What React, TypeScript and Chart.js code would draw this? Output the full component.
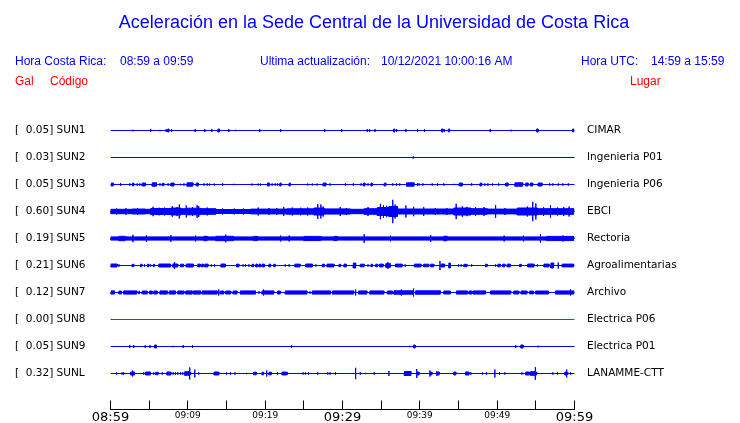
import { useEffect, useRef } from 'react';
import { Chart, registerables } from 'chart.js';

Chart.register(...registerables);

// ---------- data ----------
const TITLE = 'Aceleración en la Sede Central de la Universidad de Costa Rica';
const CR_RANGE = '08:59 a 09:59';
const UTC_RANGE = '14:59 a 15:59';
const UPDATED = '10/12/2021 10:00:16 AM';

const CODES = ['SUN1', 'SUN2', 'SUN3', 'SUN4', 'SUN5', 'SUN6', 'SUN7', 'SUN8', 'SUN9', 'SUNL'];
const PLACES = ['CIMAR', 'Ingenieria P01', 'Ingenieria P06', 'EBCI', 'Rectoria', 'Agroalimentarias', 'Archivo', 'Electrica P06', 'Electrica P01', 'LANAMME-CTT'];
const PEAK_GAL = [0.05, 0.03, 0.05, 0.6, 0.19, 0.21, 0.12, 0.0, 0.05, 0.32];
const ACTIVE = [true, true, true, true, true, true, true, false, true, true];

// time axis: minutes after 08:59, labels every 10 minutes
const TIME_LABELS = ['08:59', '09:09', '09:19', '09:29', '09:39', '09:49', '09:59'];
const TIME_MAJOR = ['08:59', '09:29', '09:59'];

// amplitude units per trace spacing
const AMP_PER_TRACE = 27;

// events: [minute, duration (min), amplitude]
const SUN1_EVENTS = [
  [2.9, 0, 0.8], [5.2, 0, 1.5], [6.4, 0, 0.7], [7.2, 0, 1.5], [7.4, 0.15, 1.5], [7.9, 0, 1.5],
  [10.95, 0, 1.5], [12.2, 0, 1.5], [13.1, 0, 1.5], [13.9, 0.2, 1.5], [15.3, 0, 1.5], [16.2, 0, 0.7],
  [19.3, 0, 1.5], [22.0, 0, 1.5], [27.7, 0, 1.5], [29.9, 0, 1.5], [33.2, 0, 1.5], [33.5, 0, 1.5],
  [34.2, 0, 1.5], [36.6, 0.15, 1.5], [37.0, 0, 1.5], [38.2, 0, 1.5], [39.7, 0, 1.5], [40.6, 0, 1.5],
  [42.8, 0.2, 1.5], [43.2, 0, 1.5], [43.7, 0.15, 1.5], [49.1, 0, 1.5], [51.8, 0, 0.8], [55.1, 0.2, 1.5],
  [59.75, 0.15, 1.5],
];
const SUN2_EVENTS = [[39.1, 0.1, 0.7]];
const SUN3_EVENTS = [
  [0.1, 0.25, 1.5], [1.3, 0, 1.5], [2.5, 0, 1.2], [2.85, 0.15, 1.5], [3.45, 0, 1.2], [3.8, 0, 1.2],
  [4.1, 0.4, 1.5], [5.4, 0.55, 1.7], [6.4, 0, 1.2], [6.7, 0.2, 1.2], [7.45, 0, 1.2], [7.8, 0.4, 1.5],
  [9.0, 0.1, 0.8], [9.5, 0, 1.2], [9.9, 0.75, 1.7], [11.1, 0.25, 1.5], [12.1, 0, 1.2], [12.5, 0, 1.2],
  [12.8, 0, 1], [13.4, 0, 1], [14.5, 0, 1.2], [16.0, 0, 0.7], [18.3, 0, 1], [19.1, 0, 1], [19.4, 0, 1],
  [20.3, 0.25, 1.5], [20.9, 0, 1.2], [21.3, 0, 1.2], [21.6, 0, 1.2], [21.9, 0.15, 1.5], [23.1, 0.15, 1.5],
  [25.5, 0, 1], [26.1, 0, 1], [26.7, 0, 1], [27.5, 0.35, 1.5], [28.4, 0, 1.2], [30.4, 0, 1.2],
  [31.4, 0, 1.2], [32.4, 0, 1.2], [32.7, 0.2, 1.5], [33.3, 0, 1.2], [33.7, 0.15, 1.5], [35.4, 0.2, 1.5],
  [36.5, 0, 1.2], [37.0, 0, 1.2], [37.4, 0, 1.2], [38.3, 0.95, 1.7], [39.7, 0, 1.2], [39.9, 0, 1.2],
  [40.4, 0, 1.2], [41.6, 0, 1.2], [42.3, 0, 1.2], [43.1, 0, 1.2], [44.4, 0, 0.7], [45.1, 0.4, 1.5],
  [46.7, 0, 1.2], [47.8, 0.2, 1.5], [48.4, 0, 1.2], [48.8, 0, 1.2], [49.4, 0, 1.2], [50.2, 0, 1.2],
  [51.1, 0.3, 1.5], [52.3, 1.0, 1.7], [53.7, 0.3, 1.5], [54.3, 0.3, 1.5], [55.3, 0.5, 1.5], [56.8, 0, 1.2],
  [57.2, 0, 1.2], [57.9, 0, 1.2], [58.5, 0, 1.2], [59.2, 0, 1.2],
];
const SUN4_EVENTS = [
  [0.02, 2.8, 2.2], [2.8, 1.7, 2.5], [4.5, 0.7, 2.2], [5.2, 2.6, 3.0], [7.8, 1.3, 3.5], [9.1, 0.7, 2.8],
  [9.8, 1.8, 3.3], [11.6, 2.0, 2.8], [13.6, 4.5, 2.0], [18.1, 4.7, 2.4], [22.8, 3.5, 2.7], [26.3, 1.3, 3.5],
  [27.6, 3.4, 2.6], [31.0, 1.8, 2.2], [32.8, 1.7, 2.8], [34.5, 1.5, 4.0], [36.0, 1.1, 5.0], [37.1, 7.3, 2.5],
  [44.4, 2.2, 3.5], [46.6, 2.1, 2.8], [48.7, 3.9, 2.4], [52.6, 2.6, 3.5], [55.2, 4.7, 2.8],
];
const SUN4_PEAKS = [
  [0.8, 3], [2.0, 3.3], [3.5, 3.5], [5.5, 4.7], [6.3, 3.8], [7.0, 4], [8.0, 5.3], [8.6, 4.5], [8.9, 7],
  [9.8, 6], [10.6, 4.5], [11.2, 6.3], [11.4, 5.5], [12.5, 4], [14.5, 3], [16.0, 3], [17.2, 3], [19.1, 4],
  [20.5, 3.5], [21.5, 3.5], [22.4, 4.5], [23.5, 4], [24.6, 3.8], [25.5, 4], [26.8, 7.5], [27.2, 7],
  [27.5, 5], [29.7, 4.5], [30.5, 3.5], [33.3, 4.5], [34.9, 7.7], [35.3, 6.3], [35.7, 5.7], [36.5, 11.7],
  [36.8, 7], [38.2, 6], [39.2, 4.7], [40.5, 4.5], [42.0, 3.5], [43.5, 3.5], [44.7, 7.7], [45.5, 5.3],
  [46.1, 4.7], [47.2, 4.5], [48.3, 4.5], [49.8, 6.3], [51.0, 3.5], [53.9, 5], [54.6, 9.7], [55.0, 8],
  [56.0, 4.5], [56.9, 6.5], [57.8, 4], [58.6, 4.5], [59.3, 5],
];
const SUN5_EVENTS = [
  [0.02, 1.08, 1.6], [1.1, 0.8, 2.2], [1.9, 10.2, 1.6], [12.1, 0.4, 2.2], [12.5, 1.1, 1.6], [13.6, 2.3, 2.2],
  [15.9, 2.6, 1.6], [18.5, 0.5, 2.1], [19.0, 6.0, 1.6], [25.0, 2.2, 2.1], [27.2, 1.7, 1.6], [28.9, 0.4, 2.1],
  [29.3, 13.8, 1.6], [43.1, 0.4, 2.3], [43.5, 12.9, 1.6], [56.4, 3.5, 2.1],
];
const SUN5_PEAKS = [
  [2.9, 3.7], [4.65, 3.3], [7.8, 3.5], [11.0, 3], [14.9, 3.8], [22.0, 3], [23.1, 3], [32.8, 4.3],
  [36.2, 3], [41.4, 3.5], [50.9, 3], [53.4, 3], [55.6, 4.5], [58.5, 3],
];
const SUN6_EVENTS = [
  [0.05, 0.8, 1.5], [1.1, 0, 1.2], [2.8, 0.2, 1.2], [3.9, 0.15, 1.3], [4.4, 0, 1.2], [4.8, 0.15, 1.3],
  [5.2, 0, 1.2], [5.55, 0.1, 1.2], [6.25, 1.5, 1.5], [8.05, 0.2, 1.6], [8.3, 0, 3.5], [8.35, 0.35, 1.5],
  [9.05, 0.4, 1.3], [9.8, 0.9, 1.5], [11.3, 0.3, 1.4], [11.8, 0.2, 1.4], [12.2, 0.4, 1.4], [13.05, 0, 1.2],
  [13.45, 0, 1.2], [14.3, 0.55, 1.5], [16.3, 0.3, 1.4], [17.15, 0, 1.2], [17.45, 0, 1.2], [17.9, 0, 1.2],
  [18.3, 0.2, 1.3], [18.8, 0.2, 1.4], [19.2, 0.2, 1.4], [19.6, 0.3, 1.4], [20.5, 0.2, 1.4], [21.1, 0.2, 1.2],
  [22.6, 0, 1.2], [23.1, 0, 1.2], [23.85, 0.65, 1.4], [25.25, 0.85, 1.5], [26.55, 0, 1.2], [27.4, 0.25, 1.3],
  [28.0, 0.9, 1.4], [29.55, 0.2, 1.2], [30.2, 0.3, 1.4], [31.4, 0.3, 2.5], [32.3, 0.5, 1.3], [33.3, 0, 1.2],
  [33.7, 0.15, 1.3], [34.3, 0.25, 1.3], [34.8, 0.45, 1.4], [35.6, 0.25, 1.8], [35.86, 0, 3.5], [35.87, 0.33, 1.8],
  [36.85, 0.85, 1.4], [38.1, 0, 1.2], [39.3, 0.85, 1.4], [40.5, 0.65, 1.3], [41.4, 0.4, 1.3], [42.6, 0, 4.5],
  [42.75, 0.45, 1.5], [43.75, 0.2, 2.5], [45.0, 0, 1.2], [45.35, 0, 1.2], [45.7, 0.4, 1.2], [46.7, 0, 1.2],
  [48.5, 0.2, 1.3], [49.8, 0, 1.2], [50.1, 0.3, 1.3], [50.7, 0.3, 1.3], [51.3, 0.4, 1.4], [52.9, 0.2, 1.2],
  [53.95, 0.8, 1.5], [55.2, 0, 1.2], [56.05, 0.65, 1.4], [56.95, 0.35, 2.5], [57.9, 0, 3], [58.4, 1.5, 1.4],
];
const SUN7_EVENTS = [
  [0.05, 0.45, 1.6], [1.1, 0.3, 1.5], [1.7, 1.7, 1.6], [3.65, 0.1, 1.3], [4.1, 0.65, 1.5], [5.05, 0.35, 1.5],
  [5.6, 0.45, 1.5], [6.4, 0.95, 1.6], [7.6, 0.8, 1.6], [8.7, 0.8, 1.5], [9.75, 0.8, 1.6], [10.7, 0.95, 1.6],
  [11.85, 1.95, 1.6], [14.0, 0, 3], [14.2, 0.45, 1.5], [14.9, 0.65, 1.5], [15.85, 0.5, 1.5], [16.8, 1.95, 1.6],
  [19.2, 0, 1.3], [19.6, 0.15, 1.6], [19.8, 0, 3], [19.81, 1.3, 1.6], [21.6, 0.35, 1.5], [22.6, 2.8, 1.6],
  [25.8, 0, 1.3], [26.1, 2.35, 1.6], [28.7, 2.75, 1.6], [31.7, 0, 3], [32.1, 1.05, 1.6], [33.55, 1.8, 1.6],
  [35.8, 0.65, 1.5], [36.65, 0.9, 1.7], [37.6, 0, 3], [37.61, 1.55, 1.7], [39.2, 0, 4], [39.45, 3.2, 1.7],
  [43.1, 0.85, 1.5], [44.75, 1.4, 1.6], [46.35, 0.4, 1.5], [46.9, 1.6, 1.6], [49.15, 2.6, 1.6], [52.15, 0.65, 1.5],
  [53.1, 0.75, 1.5], [54.2, 0.5, 1.4], [54.95, 1.7, 1.5], [57.55, 1.9, 1.6], [59.5, 0, 3], [59.51, 0.4, 1.6],
];
const SUN8_EVENTS = [];
const SUN9_EVENTS = [
  [2.5, 0, 1.5], [3.0, 0, 1.5], [4.5, 0, 1.5], [5.1, 0, 1.5], [5.7, 0.25, 1.5], [8.1, 0, 0.7], [9.4, 0, 1.5],
  [10.6, 0, 1.5], [23.4, 0, 1.5], [38.7, 0, 0.7], [39.2, 0.2, 1.5], [52.4, 0, 1.5], [53.05, 0.3, 1.5], [55.3, 0, 0.8],
];
const SUNL_EVENTS = [
  [0.78, 0, 1], [1.5, 0, 1.2], [1.7, 0, 1.2], [2.6, 0.2, 1.5], [2.85, 0, 3], [2.9, 0.2, 1.5], [4.3, 0, 1.2],
  [4.55, 0.6, 1.5], [5.6, 0, 1.2], [5.85, 0.3, 1.2], [6.7, 0, 1.2], [7.3, 0.5, 1.5], [8.1, 0, 1.2], [8.4, 0, 1.2],
  [8.7, 0, 1.2], [9.05, 0, 1.2], [9.35, 0, 1.2], [9.6, 0.6, 1.8], [10.26, 0, 6], [10.3, 0.1, 1.5], [10.9, 0, 4],
  [11.4, 0, 1.2], [13.4, 0.6, 1.5], [15.0, 0, 1.2], [15.5, 0, 1.2], [16.1, 0, 1.2], [17.6, 0, 0.7],
  [18.5, 0.35, 1.3], [19.6, 0.2, 1.3], [20.2, 0, 3], [20.5, 0.3, 1.3], [21.6, 0, 1.2], [22.2, 0.55, 1.5],
  [22.9, 0, 1.2], [24.9, 0, 1.2], [25.2, 0, 1.2], [25.6, 0, 1.2], [26.8, 0, 1.2], [28.1, 0, 1.2], [28.4, 0, 1.2],
  [29.1, 0, 1.2], [31.7, 0, 5.7], [32.3, 0, 1.2], [33.0, 0, 0.7], [34.1, 0, 1.2], [36.0, 0, 2.5],
  [38.0, 0.85, 2], [39.6, 0, 4.5], [39.7, 0.2, 1.5], [41.3, 0, 3], [41.4, 0.15, 1.5], [42.2, 0, 2.5],
  [42.3, 0.2, 1.5], [44.4, 0.25, 1.5], [45.9, 0.45, 1.5], [46.6, 0, 1.2], [48.1, 0, 1.2], [48.6, 0, 1.2],
  [49.7, 0, 4], [50.3, 0, 1.2], [51.0, 0, 1.2], [53.2, 0, 1.2], [53.7, 0.45, 1.5], [54.3, 0.55, 1.8],
  [54.9, 0, 6.3], [55.0, 0.1, 1.5], [57.2, 0, 1.2], [57.8, 0, 1.2], [58.75, 0.2, 1.5], [59.0, 0, 4],
  [59.05, 0.1, 1.5], [59.5, 0, 1.2],
];

const TRACE_EVENTS = [SUN1_EVENTS, SUN2_EVENTS, SUN3_EVENTS, SUN4_EVENTS, SUN5_EVENTS, SUN6_EVENTS, SUN7_EVENTS, SUN8_EVENTS, SUN9_EVENTS, SUNL_EVENTS];
const TRACE_PEAKS = [[], [], [], SUN4_PEAKS, SUN5_PEAKS, [], [], [], [], []];

// ---------- chart ----------
const BLUE = '#0000ff';
const RED = '#ff0000';
const SANS = '"Liberation Sans", Arial, sans-serif';
const DEJAVU = '"DejaVu Sans", sans-serif';

function envelope(events: number[][], k: number, sign: number) {
  const sorted = [...events].sort((a, b) => a[0] - b[0]);
  const pts: { x: number; y: number }[] = [{ x: 0, y: k }];
  for (const [t, d, a] of sorted) {
    const y = k + (sign * a) / AMP_PER_TRACE;
    pts.push({ x: t, y: k }, { x: t, y }, { x: t + d, y }, { x: t + d, y: k });
  }
  pts.push({ x: 60, y: k });
  return pts;
}

function pair(events: number[][], k: number, color: string) {
  return [
    { type: 'line', data: envelope(events, k, -1), borderColor: color, backgroundColor: color, borderWidth: 1, pointRadius: 0, tension: 0, fill: false },
    { type: 'line', data: envelope(events, k, 1), borderColor: color, backgroundColor: color, borderWidth: 1, pointRadius: 0, tension: 0, fill: '-1' },
  ];
}

const headerPlugin = {
  id: 'header',
  afterDraw(chart: any) {
    const ctx = chart.ctx;
    ctx.save();
    ctx.font = '12px ' + SANS;
    ctx.textAlign = 'left';
    ctx.textBaseline = 'alphabetic';
    ctx.fillStyle = BLUE;
    ctx.fillText('Hora Costa Rica:', 15, 65);
    ctx.fillText(CR_RANGE, 120, 65);
    ctx.fillText('Ultima actualización:', 260, 65);
    ctx.fillText(UPDATED, 381, 65);
    ctx.fillText('Hora UTC:', 581, 65);
    ctx.fillText(UTC_RANGE, 651, 65);
    ctx.fillStyle = RED;
    ctx.fillText('Gal', 15, 85);
    ctx.fillText('Código', 50, 85);
    ctx.fillText('Lugar', 630, 85);
    ctx.restore();
  },
};

const traceTicks = (axis: any) => {
  axis.ticks = CODES.map((_, i) => ({ value: i }));
};

export default function App() {
  const ref = useRef<HTMLCanvasElement | null>(null);

  useEffect(() => {
    if (!ref.current) return;
    const datasets: any[] = [];
    CODES.forEach((_, k) => {
      const color = ACTIVE[k] ? BLUE : RED;
      datasets.push(...pair(TRACE_EVENTS[k], k, color));
      const peaks = TRACE_PEAKS[k].map(([t, a]) => [t, 0, a]);
      if (peaks.length) datasets.push(...pair(peaks, k, color));
    });

    const yBase = {
      type: 'linear',
      reverse: true,
      min: -1,
      max: 10 + 1 / 3,
      afterBuildTicks: traceTicks,
      border: { display: false },
    };

    const chart = new Chart(ref.current, {
      type: 'line',
      data: { datasets },
      plugins: [headerPlugin],
      options: {
        responsive: false,
        animation: false,
        devicePixelRatio: 1,
        events: [],
        layout: { padding: { left: 15, right: 7, top: 0, bottom: 0 } },
        plugins: {
          legend: { display: false },
          tooltip: { enabled: false },
          title: {
            display: true,
            text: TITLE,
            color: BLUE,
            font: { family: SANS, size: 18, weight: 'normal' },
            padding: { top: 12, bottom: 69.9 },
          },
        },
        scales: {
          x: {
            type: 'linear',
            min: 0,
            max: 60,
            ticks: {
              stepSize: 5,
              autoSkip: false,
              maxRotation: 0,
              padding: 9,
              color: '#000',
              callback: (v: any) => (v % 10 === 0 ? TIME_LABELS[v / 10] : ''),
              font: (c: any) => {
                const v = c.tick ? c.tick.value : 0;
                const lbl = v % 10 === 0 ? TIME_LABELS[v / 10] : '';
                return TIME_MAJOR.includes(lbl)
                  ? { family: DEJAVU, size: 13, lineHeight: 1.2 }
                  : { family: DEJAVU, size: 9, lineHeight: 1.4 };
              },
            },
            grid: { display: true, drawOnChartArea: false, drawTicks: true, tickLength: -9, color: '#000', lineWidth: 1 },
            border: { display: true, color: '#000', width: 1 },
            afterFit: (s: any) => {
              s.height = 13.5;
            },
          },
          y: {
            ...yBase,
            position: 'left',
            grid: { display: false, drawTicks: false },
            ticks: {
              autoSkip: false,
              crossAlign: 'far',
              padding: 0,
              color: '#000',
              font: { family: DEJAVU, size: 10.5 },
              callback: (v: any) => `[  ${PEAK_GAL[v].toFixed(2)}] ${CODES[v]}`,
            },
            afterFit: (s: any) => {
              s.width = 95.5;
            },
          },
          y2: {
            ...yBase,
            position: 'right',
            grid: { display: false, drawTicks: true, tickLength: 12.5 },
            ticks: {
              autoSkip: false,
              crossAlign: 'near',
              padding: 0,
              color: '#000',
              font: { family: DEJAVU, size: 10.5 },
              callback: (v: any) => PLACES[v],
            },
            afterFit: (s: any) => {
              s.width = 158.5;
            },
          },
        },
      } as any,
    } as any);
    return () => chart.destroy();
  }, []);

  return (
    <div style={{ position: 'fixed', left: 0, top: 0, width: 740, height: 423, background: '#fff' }}>
      <canvas ref={ref} width={740} height={423} style={{ display: 'block' }} />
    </div>
  );
}
